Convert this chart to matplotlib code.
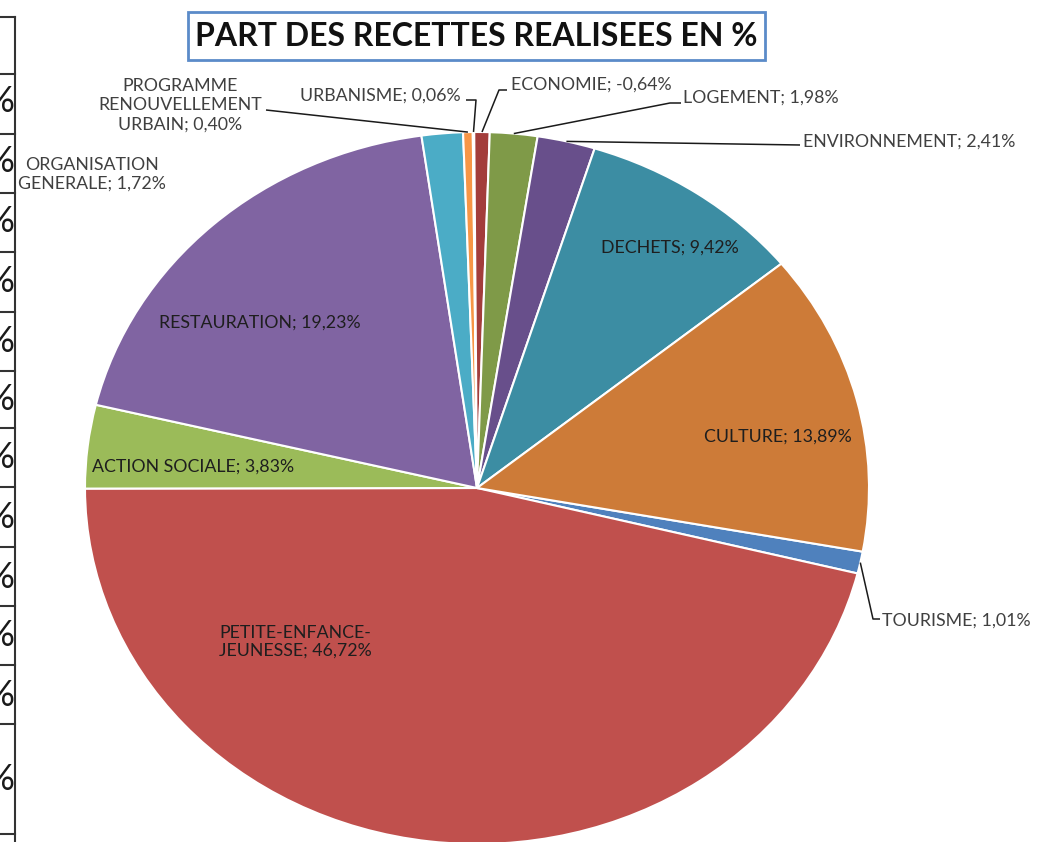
import numpy as np
import matplotlib
matplotlib.use("Agg")
import matplotlib.pyplot as plt
from matplotlib.patches import Rectangle

# ---------------- data ----------------
categories = ["TOURISME", "PETITE-ENFANCE-\nJEUNESSE", "ACTION SOCIALE", "RESTAURATION",
              "ORGANISATION\nGENERALE", "PROGRAMME\nRENOUVELLEMENT\nURBAIN", "URBANISME",
              "ECONOMIE", "LOGEMENT", "ENVIRONNEMENT", "DECHETS", "CULTURE"]
values = [1.01, 46.72, 3.83, 19.23, 1.72, 0.40, 0.06, -0.64, 1.98, 2.41, 9.42, 13.89]
colors = ["#4F81BD", "#C0504D", "#9BBB59", "#8064A2", "#4BACC6", "#F79646",
          "#3C6494", "#A33D3B", "#7F9A48", "#684F8B", "#3C8DA3", "#CD7B38"]
title = "PART DES RECETTES REALISEES EN %"

# partial table visible at the left edge
table_lines_y = [17, 74, 134, 193, 252, 312, 371, 428, 487, 547, 606, 665, 724, 834]
table_pct_y = [102, 162, 222, 282, 342, 400, 458, 517, 577, 636, 695, 780]

W, H = 1038, 842
CX, CY = 477, 488
RX, RY = 392, 356

plt.rcParams['font.family'] = ['Lato', 'DejaVu Sans']

fig = plt.figure(figsize=(W / 100, H / 100), dpi=100)
ax = fig.add_axes([0, 0, 1, 1])
wedges, _ = ax.pie(np.abs(values), colors=colors, startangle=-10.3, counterclock=False,
                   wedgeprops=dict(edgecolor="white", linewidth=1.5))
ax.set_aspect("auto")
ax.set_xlim(-CX / RX, (W - CX) / RX)
ax.set_ylim((CY - H) / RY, CY / RY)
ax.axis("off")

# overlay in pixel coordinates
ov = fig.add_axes([0, 0, 1, 1], facecolor="none")
ov.set_xlim(0, W)
ov.set_ylim(H, 0)
ov.axis("off")


def anchor(i, r=1.0):
    w = wedges[i]
    t = np.deg2rad((w.theta1 + w.theta2) / 2)
    return CX + RX * r * np.cos(t), CY - RY * r * np.sin(t)


def lab(i):
    v = values[i]
    return f"{categories[i]}; {v:.2f}".replace(".", ",") + "%"


FS = 12.8
OUT = "#404040"
IN = "#1E1E1E"

# inside labels
inside = {10: (670, 248), 11: (778, 437), 1: (295, 642), 2: (193, 467), 3: (260, 323)}
for i, (x, y) in inside.items():
    ov.text(x, y, lab(i), ha="center", va="center", fontsize=FS, color=IN, linespacing=1.15)

# outside labels with leader lines
ov.text(180, 105, lab(5), ha="center", va="center", fontsize=FS, color=OUT, linespacing=1.25)
ov.text(92, 174, lab(4), ha="center", va="center", fontsize=FS, color=OUT, linespacing=1.2)
ov.text(380, 96, lab(6), ha="center", va="center", fontsize=FS, color=OUT)
ov.text(511, 85, lab(7), ha="left", va="center", fontsize=FS, color=OUT)
ov.text(683, 98, lab(8), ha="left", va="center", fontsize=FS, color=OUT)
ov.text(803, 142, lab(9), ha="left", va="center", fontsize=FS, color=OUT)
ov.text(882, 621, lab(0), ha="left", va="center", fontsize=FS, color=OUT)

leaders = {
    5: [(266, 110)],
    6: [(466, 100), (476, 100)],
    7: [(507, 90), (499, 90)],
    8: [(681, 103), (670, 103)],
    9: [(800, 145)],
    0: [(880, 619), (873, 619)],
}
for i, pts in leaders.items():
    ax_x, ax_y = anchor(i)
    xs = [p[0] for p in pts] + [ax_x]
    ys = [p[1] for p in pts] + [ax_y]
    ov.plot(xs, ys, color="#1a1a1a", lw=1.1, solid_capstyle="butt")

# title box
ov.add_patch(Rectangle((188, 12), 577, 48, facecolor="white", edgecolor="#5B8BC9", lw=2))
ov.text(476, 37, title, ha="center", va="center", fontsize=23, fontweight="bold", color="#111111")

# left partial table
ov.plot([15, 15], [17, H], color="#333333", lw=1.5)
for y in table_lines_y:
    ov.plot([0, 15], [y, y], color="#333333", lw=1.5)
for y in table_pct_y:
    ov.text(14, y, "%", ha="right", va="center", fontsize=26, color="#1a1a1a")

fig.savefig("out.png", dpi=100)
